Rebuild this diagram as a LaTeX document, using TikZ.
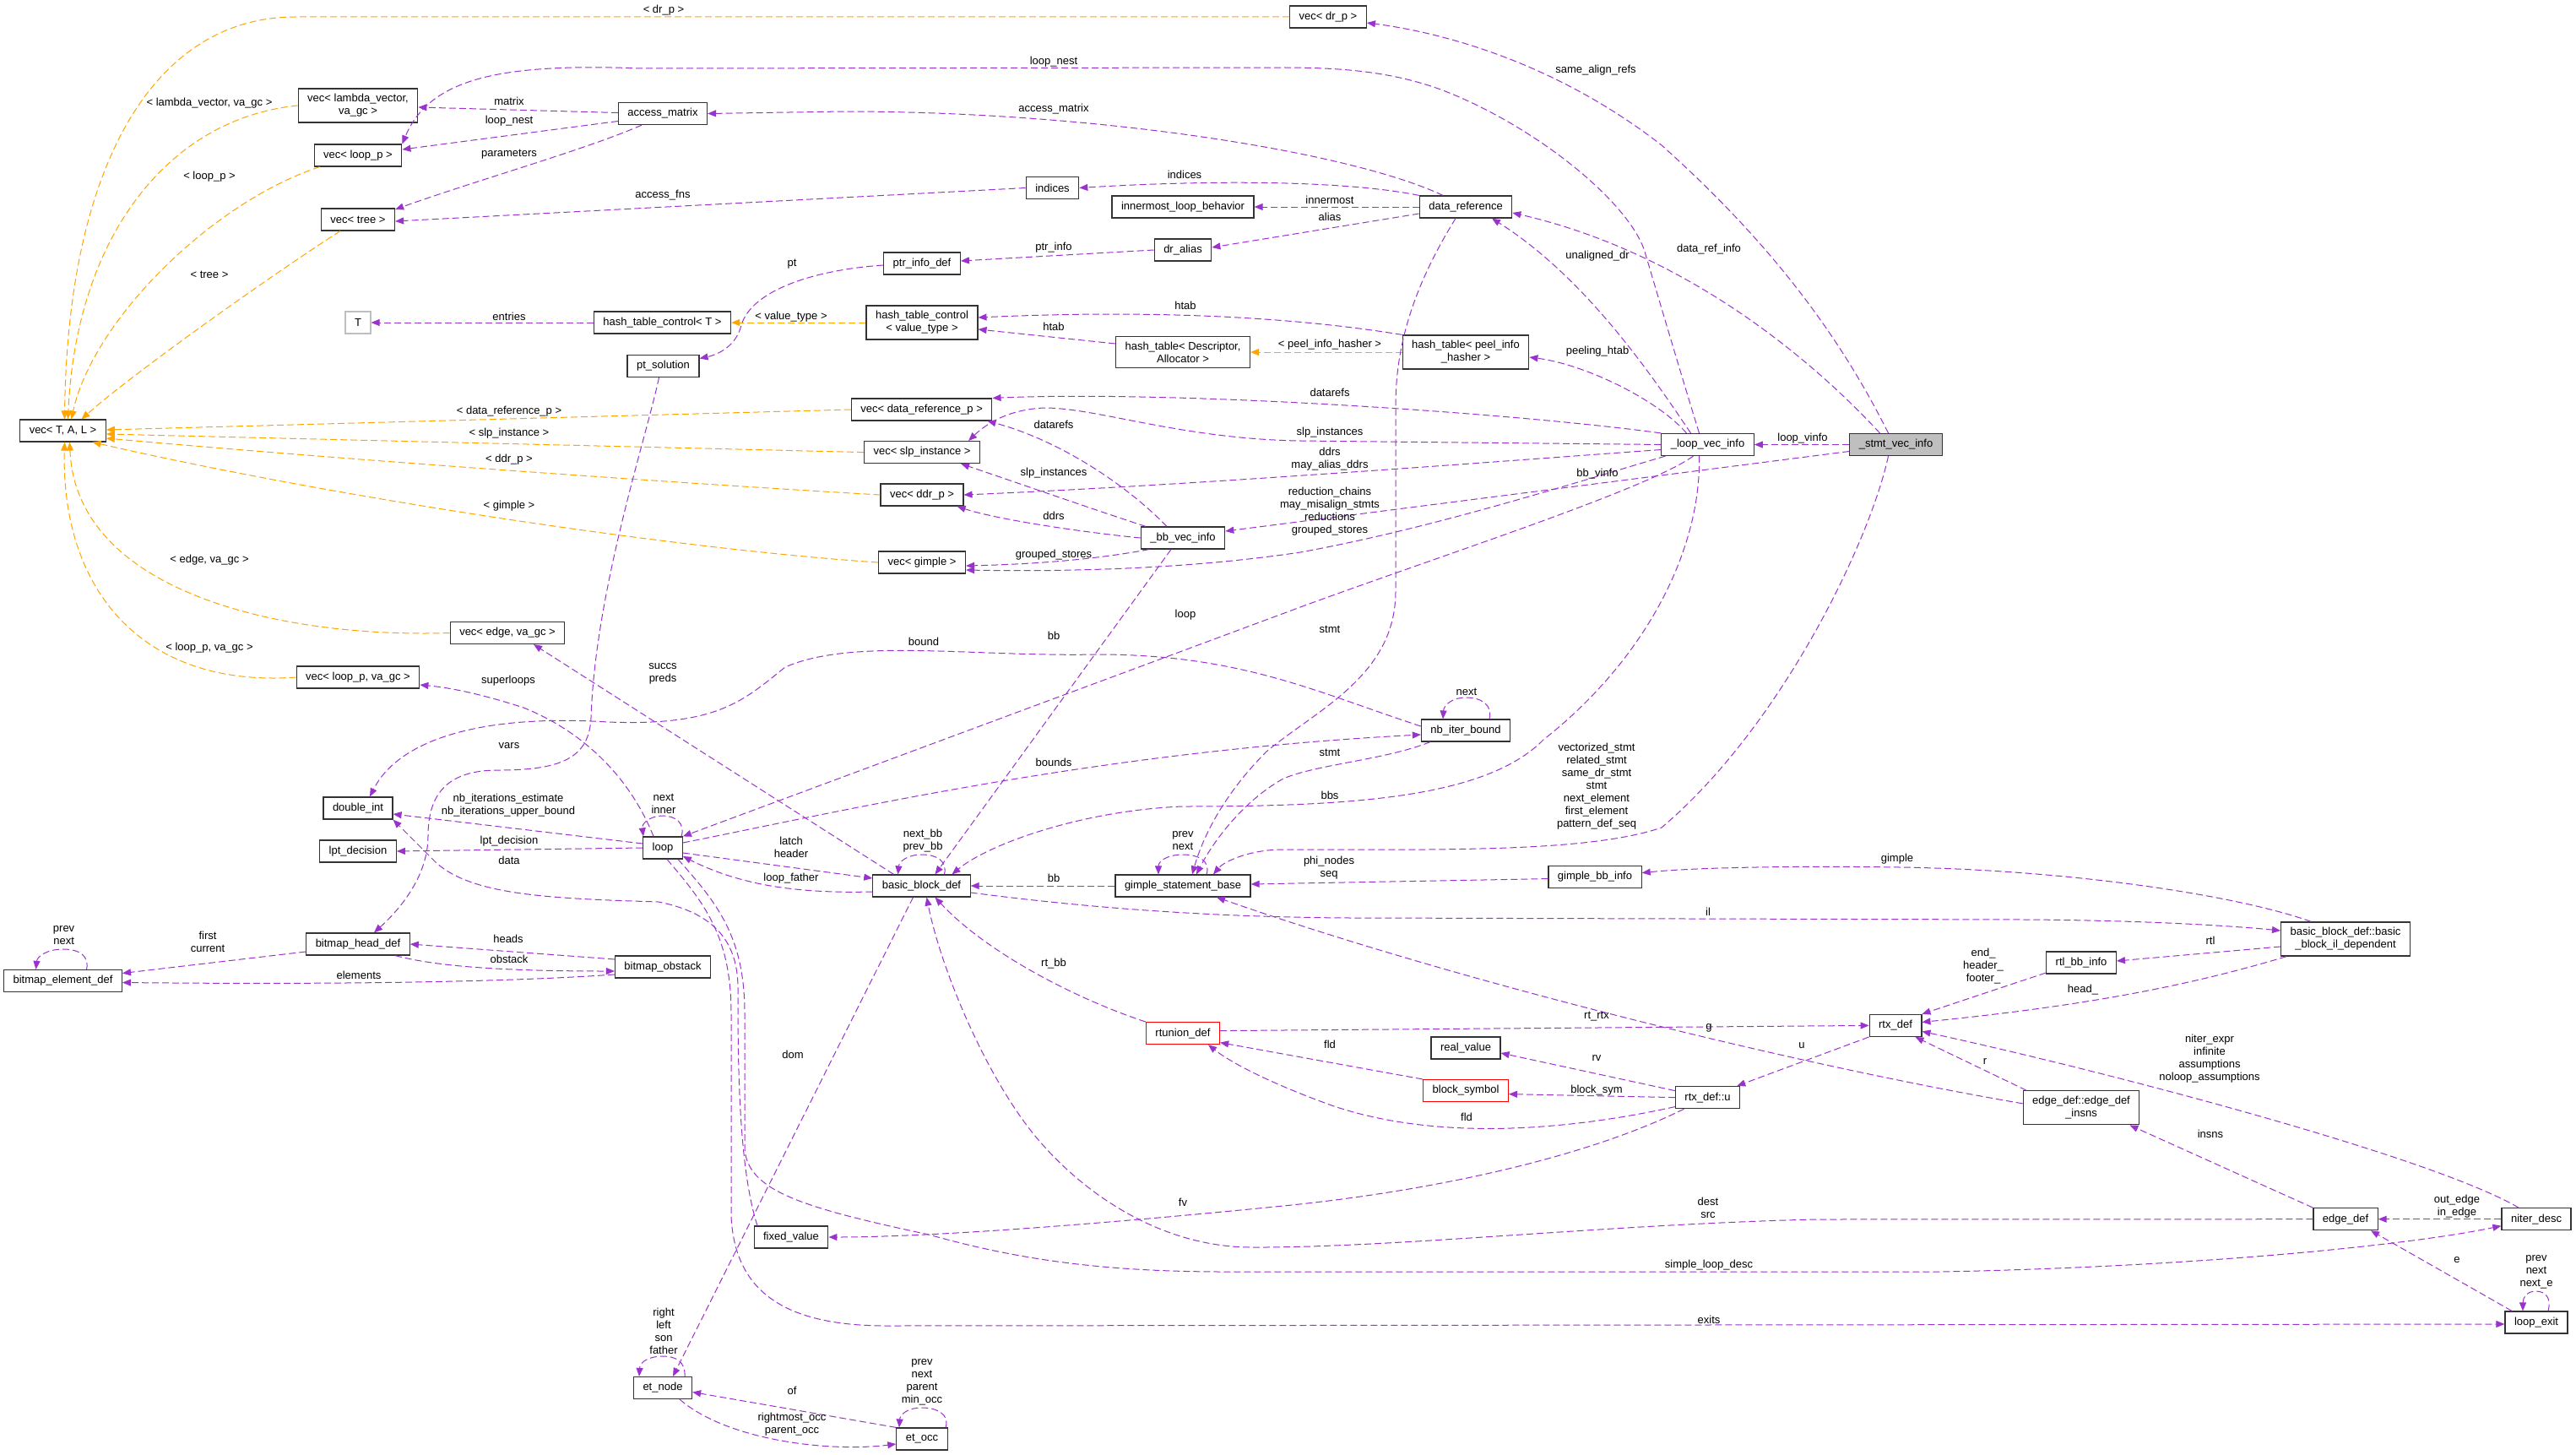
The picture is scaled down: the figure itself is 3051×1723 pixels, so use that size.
\documentclass[tikz,border=0pt]{standalone}
\usepackage{fontspec}
\setmainfont{Liberation Sans}
\usetikzlibrary{arrows.meta}
\definecolor{mbr}{HTML}{9A32CD}
\definecolor{tpl}{HTML}{FFA500}

\begin{document}
\begin{tikzpicture}[x=1pt,y=-1pt,
  cls/.style={draw=black!80,line width=1.2pt,fill=white,minimum height=26pt,inner xsep=11pt,inner ysep=6.5pt,align=center,font=\fontsize{13}{15}\selectfont},
  lbl/.style={inner sep=0pt,align=center,font=\fontsize{13}{15}\selectfont},
  mem/.style={draw=mbr,line width=1pt,dash pattern=on 8pt off 4pt,-{Triangle[length=10pt,width=8pt]}},
  inst/.style={draw=tpl,line width=1pt,dash pattern=on 8pt off 4pt,-{Triangle[length=10pt,width=8pt]}}]
\useasboundingbox[fill=white] (0,0) rectangle (3051,1723);

\node[cls] (vtal) at (74.5,510) {vec< T, A, L >};
\node[cls] (vdrp) at (1573,20) {vec< dr\_p >};
\node[cls] (vlam) at (424,125) {vec< lambda\_vector,\\ va\_gc >};
\node[cls] (vlp) at (424,184) {vec< loop\_p >};
\node[cls] (vtree) at (424,260) {vec< tree >};
\node[cls,draw=black!25] (tt) at (424,382) {T};
\node[cls] (amat) at (785,134.5) {access\_matrix};
\node[cls] (htc) at (784.5,382) {hash\_table\_control< T >};
\node[cls] (pts) at (785.5,433.5) {pt\_solution};
\node[cls] (ind) at (1246.5,222.5) {indices};
\node[cls] (ilb) at (1401,245) {innermost\_loop\_behavior};
\node[cls] (dral) at (1401,296) {dr\_alias};
\node[cls] (pid) at (1092,312) {ptr\_info\_def};
\node[cls] (htcv) at (1092,382) {hash\_table\_control\\< value\_type >};
\node[cls] (htda) at (1401,417) {hash\_table< Descriptor,\\ Allocator >};
\node[cls] (vdr) at (1091.6,485) {vec< data\_reference\_p >};
\node[cls] (vslp) at (1092,535.6) {vec< slp\_instance >};
\node[cls] (vddr) at (1092,586) {vec< ddr\_p >};
\node[cls] (dref) at (1736,245) {data\_reference};
\node[cls] (htpi) at (1736,417) {hash\_table< peel\_info\\\_hasher >};
\node[cls] (lvi) at (2022.5,526.5) {\_loop\_vec\_info};
\node[cls,fill=black!25] (svi) at (2245.5,526.5) {\_stmt\_vec\_info};
\node[cls] (vedge) at (601,749.5) {vec< edge, va\_gc >};
\node[cls] (vlpg) at (424,802) {vec< loop\_p, va\_gc >};
\node[cls] (dint) at (424,957) {double\_int};
\node[cls] (lptd) at (424,1008) {lpt\_decision};
\node[cls] (loop) at (785,1004) {loop};
\node[cls] (bhd) at (424,1118) {bitmap\_head\_def};
\node[cls] (bed) at (74.5,1161.5) {bitmap\_element\_def};
\node[cls] (bobs) at (785,1145) {bitmap\_obstack};
\node[cls] (bbvi) at (1401,637) {\_bb\_vec\_info};
\node[cls] (vgim) at (1092,666) {vec< gimple >};
\node[cls] (bbd) at (1091.5,1049) {basic\_block\_def};
\node[cls] (gsb) at (1401,1049) {gimple\_statement\_base};
\node[cls] (nib) at (1736,865) {nb\_iter\_bound};
\node[cls] (gbbi) at (1889,1038.6) {gimple\_bb\_info};
\node[cls] (bbil) at (2778,1112) {basic\_block\_def::basic\\\_block\_il\_dependent};
\node[cls] (rbi) at (2465,1140) {rtl\_bb\_info};
\node[cls,draw=red] (rtu) at (1401,1223.6) {rtunion\_def};
\node[cls] (fixv) at (937,1465) {fixed\_value};
\node[cls] (etn) at (785,1643.5) {et\_node};
\node[cls] (eto) at (1092,1704) {et\_occ};
\node[cls] (rtx) at (2245,1214.4) {rtx\_def};
\node[cls] (realv) at (1736,1241) {real\_value};
\node[cls,draw=red] (bsym) at (1736,1291.6) {block\_symbol};
\node[cls] (rtxu) at (2022.5,1299.6) {rtx\_def::u};
\node[cls] (edi) at (2465,1311.8) {edge\_def::edge\_def\\\_insns};
\node[cls] (edef) at (2778,1443.7) {edge\_def};
\node[cls] (nid) at (3004,1443.7) {niter\_desc};
\node[cls] (lex) at (3004,1566) {loop\_exit};

\draw[inst] (vdrp.west) -- (350,20) .. controls (180,20) and (80,200) .. ([xshift=2pt]vtal.north);
\draw[inst] (vlam.west) .. controls (200,140) and (90,280) .. ([xshift=6pt]vtal.north);
\draw[inst] ([xshift=7pt]vlp.south west) .. controls (250,240) and (110,380) .. ([xshift=10pt]vtal.north);
\draw[inst] ([xshift=-21pt]vtree.south) .. controls (330,320) and (160,440) .. ([xshift=22pt]vtal.north);
\draw[inst] (vdr.west) -- ([yshift=1pt]vtal.east);
\draw[inst] (vslp.west) -- ([yshift=-4pt]vtal.east);
\draw[inst] (vddr.west) .. controls (850,575) and (450,548) .. ([yshift=-9pt]vtal.east);
\draw[inst] (vgim.west) .. controls (800,650) and (400,590) .. ([xshift=35pt]vtal.south);
\draw[inst] (vedge.west) .. controls (330,756) and (90,700) .. ([xshift=8pt]vtal.south);
\draw[inst] (vlpg.west) .. controls (170,815) and (72,700) .. ([xshift=2pt]vtal.south);
\draw[inst] (htcv.west) -- (htc.east);
\draw[inst] (htpi.west) -- (htda.east);

\draw[mem] ([yshift=1pt]amat.west) -- ([yshift=-2pt]vlam.east);
\draw[mem] ([yshift=-9pt]amat.west) -- ([yshift=7pt]vlp.east);
\draw[mem] ([xshift=-25pt]amat.south) .. controls (700,175) and (560,215) .. ([yshift=12pt]vtree.east);
\draw[mem] (ind.west) -- ([yshift=-2pt]vtree.east);
\draw[mem] ([xshift=-10pt]lvi.north) .. controls (1990,440) and (1962,345) .. (1948,298) .. controls (1930,240) and (1820,150) .. (1709,107) .. controls (1650,85) and (1590,80) .. (1520,80) -- (760,81) .. controls (600,75) and (510,90) .. (vlp.north east);
\draw[mem] ([xshift=-27pt]dref.north) .. controls (1600,180) and (1300,132) .. (1000,132) -- (amat.east);
\draw[mem] (dref.north west) .. controls (1600,215) and (1450,212) .. (ind.east);
\draw[mem] (dref.west) -- (ilb.east);
\draw[mem] ([yshift=-8pt]dref.west) -- ([yshift=3pt]dral.east);
\draw[mem] (dral.west) -- ([yshift=3pt]pid.east);
\draw[mem] ([yshift=-2pt]pid.west) .. controls (960,320) and (890,345) .. (878,385) .. controls (872,410) and (850,420) .. ([yshift=9pt]pts.east);
\draw[mem] (htc.west) -- (tt.east);
\draw[mem] (htpi.north west) .. controls (1560,380) and (1400,365) .. ([yshift=6pt]htcv.east);
\draw[mem] ([yshift=10pt]htda.west) -- ([yshift=-8pt]htcv.east);
\draw[mem] ([xshift=-25pt]lvi.north) .. controls (1965,475) and (1880,432) .. ([yshift=-6pt]htpi.east);
\draw[mem] ([xshift=-9pt]svi.north) .. controls (2180,400) and (2100,290) .. (1968,172) .. controls (1850,80) and (1720,40) .. ([yshift=-7pt]vdrp.east);
\draw[mem] ([xshift=-19pt]svi.north) .. controls (2150,430) and (2000,300) .. ([yshift=-7pt]dref.east);
\draw[mem] ([xshift=-20pt]lvi.north) .. controls (1960,450) and (1880,330) .. ([xshift=31pt]dref.south);
\draw[mem] (svi.west) -- (lvi.east);
\draw[mem] (lvi.north west) .. controls (1800,490) and (1400,462) .. (vdr.north east);
\draw[mem] ([xshift=-19pt]bbvi.north) .. controls (1330,570) and (1250,520) .. ([xshift=-6pt]vdr.south east);
\draw[mem] ([xshift=-44pt]bbvi.north) .. controls (1300,605) and (1200,570) .. ([xshift=-23pt]vslp.south east);
\draw[mem] (lvi.west) -- (1540,522) .. controls (1400,520) and (1300,483) .. (1237,483) .. controls (1190,485) and (1165,505) .. ([xshift=-14pt]vslp.north east);
\draw[mem] ([yshift=-6pt]lvi.west) .. controls (1700,552) and (1400,575) .. (vddr.east);
\draw[mem] (bbvi.west) .. controls (1280,630) and (1180,615) .. ([xshift=-8pt]vddr.south east);
\draw[mem] ([xshift=-50pt]lvi.south) .. controls (1870,570) and (1700,625) .. (1540,654) .. controls (1400,675) and (1250,677) .. ([yshift=-9pt]vgim.east);
\draw[mem] ([xshift=-40pt]bbvi.south) .. controls (1300,662) and (1230,668) .. ([yshift=-4pt]vgim.east);
\draw[mem] ([yshift=-8pt]svi.west) -- ([yshift=8pt]bbvi.east);
\draw[mem] ([xshift=-17pt]lvi.south) .. controls (1950,580) and (1700,660) .. (1540,719) -- (loop.north east);
\draw[mem] ([xshift=-14pt]bbvi.south) -- ([xshift=16pt]bbd.north);
\draw[mem] ([xshift=-33pt]bbd.north) -- ([xshift=31pt]vedge.south);
\draw[mem] ([yshift=5pt]nib.west) .. controls (1560,820) and (1470,775) .. (1300,775) .. controls (1150,778) and (1010,755) .. (930,790) .. controls (880,830) and (850,860) .. (720,855) .. controls (560,845) and (470,880) .. ([xshift=14pt]dint.north);
\draw[mem] ([yshift=6pt]loop.east) .. controls (1000,960) and (1300,890) .. ([yshift=-5pt]nib.west);
\draw[mem] ([xshift=28pt]nib.north) .. controls (1768,835) and (1755,826) .. (1736,826) .. controls (1720,826) and (1710,835) .. ([xshift=-27pt]nib.north);
\draw[mem] ([xshift=-42pt]nib.south) .. controls (1640,900) and (1560,905) .. (1520,922) .. controls (1470,950) and (1435,1000) .. ([xshift=16pt]gsb.north);
\draw[mem] ([xshift=-12pt]dref.south) .. controls (1680,330) and (1653,400) .. (1653,480) -- (1653,700) .. controls (1653,800) and (1560,840) .. (1500,890) .. controls (1450,940) and (1425,990) .. ([xshift=11pt]gsb.north);
\draw[mem] ([xshift=-9pt]svi.south) .. controls (2215,640) and (2110,860) .. (1968,980) .. controls (1880,1010) and (1700,1006) .. (1520,1006) .. controls (1480,1006) and (1450,1020) .. ([xshift=36pt]gsb.north);
\draw[mem] ([xshift=-10pt]lvi.south) .. controls (2015,650) and (1950,780) .. (1828,876) .. controls (1760,945) and (1600,955) .. (1400,955) .. controls (1280,960) and (1170,1000) .. ([xshift=36pt]bbd.north);
\draw[mem] ([xshift=28pt]gsb.north) .. controls (1434,1020) and (1420,1012) .. (1401,1012) .. controls (1382,1012) and (1372,1020) .. ([xshift=-29pt]gsb.north);
\draw[mem] ([xshift=27pt]bbd.north) .. controls (1122,1020) and (1110,1012) .. (1092,1012) .. controls (1075,1012) and (1065,1020) .. ([xshift=-28pt]bbd.north);
\draw[mem] ([xshift=22pt]loop.north) .. controls (812,975) and (800,966) .. (785,966) .. controls (770,966) and (760,975) .. ([xshift=-23pt]loop.north);
\draw[mem] ([yshift=-6pt]loop.east) -- ([yshift=9pt]bbd.west);
\draw[mem] ([yshift=-7pt]bbd.west) .. controls (950,1058) and (880,1050) .. ([yshift=-10pt]loop.east);
\draw[mem] (gsb.west) -- (bbd.east);
\draw[mem] ([yshift=-2pt]gbbi.west) -- ([yshift=2pt]gsb.east);
\draw[mem] ([xshift=-41pt]bbil.north) .. controls (2650,1060) and (2450,1030) .. (2250,1027) .. controls (2100,1025) and (2000,1028) .. ([yshift=5pt]gbbi.east);
\draw[mem] ([yshift=-8pt]bbd.east) .. controls (1250,1070) and (1400,1086) .. (1600,1087) -- (2400,1089) .. controls (2550,1090) and (2650,1097) .. ([yshift=10pt]bbil.west);
\draw[mem] ([yshift=-9pt]bbil.west) -- ([yshift=2pt]rbi.east);
\draw[mem] ([yshift=-12pt]rbi.west) -- (rtx.north east);
\draw[mem] ([xshift=-70pt]bbil.south) .. controls (2600,1165) and (2480,1190) .. ([yshift=4pt]rtx.east);
\draw[mem] ([xshift=-65pt]edi.north) -- ([xshift=-8pt]rtx.south east);
\draw[mem] ([xshift=-21pt]nid.north) .. controls (2880,1370) and (2500,1270) .. ([yshift=-7pt]rtx.east);
\draw[mem] (rtu.north west) .. controls (1280,1185) and (1170,1130) .. ([xshift=16pt]bbd.south);
\draw[mem] ([yshift=3pt]rtu.east) -- (rtx.west);
\draw[mem] (bsym.north west) -- ([yshift=-11pt]rtu.east);
\draw[mem] ([yshift=-11pt]rtxu.west) .. controls (1850,1340) and (1700,1350) .. (1580,1310) .. controls (1510,1285) and (1460,1260) .. ([xshift=30pt]rtu.south);
\draw[mem] ([yshift=8pt]rtxu.west) -- ([yshift=-6pt]realv.east);
\draw[mem] (rtxu.west) -- ([yshift=-4pt]bsym.east);
\draw[mem] (rtx.south west) -- ([xshift=-4pt]rtxu.north east);
\draw[mem] ([yshift=5pt]edi.west) .. controls (2150,1265) and (1750,1170) .. ([xshift=40pt]gsb.south);
\draw[mem] ([xshift=-28pt]rtxu.south) .. controls (1880,1370) and (1700,1410) .. (1520,1428) .. controls (1300,1450) and (1100,1465) .. (fixv.east);
\draw[mem] (edef.west) -- (2150,1444) .. controls (1900,1450) and (1650,1478) .. (1480,1477) .. controls (1380,1476) and (1290,1420) .. (1230,1350) .. controls (1170,1280) and (1115,1150) .. ([xshift=6pt]bbd.south);
\draw[mem] ([xshift=-10pt]bbd.south) -- ([xshift=12pt]etn.north);
\draw[mem] ([xshift=26pt]etn.north) .. controls (812,1612) and (800,1606) .. (785,1606) .. controls (770,1606) and (758,1612) .. ([xshift=-28pt]etn.north);
\draw[mem] (eto.north west) -- ([yshift=-5pt]etn.east);
\draw[mem] ([xshift=20pt]etn.south) .. controls (860,1705) and (980,1720) .. ([yshift=-6pt]eto.west);
\draw[mem] ([xshift=28pt]eto.north) .. controls (1125,1675) and (1110,1667) .. (1092,1667) .. controls (1075,1667) and (1066,1675) .. ([xshift=-27pt]eto.north);
\draw[mem] ([xshift=-11pt]loop.north) .. controls (750,930) and (700,870) .. (620,838) .. controls (580,825) and (540,815) .. ([yshift=-9pt]vlpg.east);
\draw[mem] ([yshift=5pt]loop.west) -- ([yshift=-7pt]dint.east);
\draw[mem] (loop.west) -- (lptd.east);
\draw[mem] ([xshift=-40pt]fixv.north) .. controls (874,1380) and (874,1250) .. (874,1170) .. controls (874,1110) and (840,1080) .. (780,1068) .. controls (650,1064) and (560,1060) .. (517,1022) .. controls (495,1000) and (480,985) .. (dint.south east);
\draw[mem] ([xshift=5pt]loop.south) .. controls (835,1070) and (866,1110) .. (866,1200) -- (866,1440) .. controls (870,1530) and (930,1570) .. (1050,1570) -- ([yshift=-2pt]lex.west);
\draw[mem] ([xshift=18pt]loop.south) .. controls (850,1070) and (882,1110) .. (882,1200) -- (882,1360) .. controls (885,1410) and (950,1430) .. (1100,1462) .. controls (1200,1490) and (1300,1506) .. (1450,1506) -- (2300,1506) .. controls (2600,1500) and (2850,1475) .. ([yshift=-8pt]nid.west);
\draw[mem] ([yshift=-9pt]bhd.west) -- ([yshift=9pt]bed.east);
\draw[mem] ([xshift=28pt]bed.north) .. controls (106,1133) and (95,1124) .. (75,1124) .. controls (55,1124) and (44,1133) .. ([xshift=-32pt]bed.north);
\draw[mem] ([yshift=-9pt]bobs.west) .. controls (600,1163) and (400,1166) .. ([yshift=-2pt]bed.east);
\draw[mem] ([yshift=9pt]bobs.west) -- (bhd.east);
\draw[mem] ([xshift=44pt]bhd.south) .. controls (520,1145) and (600,1150) .. ([yshift=-5pt]bobs.west);
\draw[mem] ([xshift=-5pt]pts.south) .. controls (765,520) and (705,700) .. (700,850) .. controls (698,900) and (660,912) .. (590,912) .. controls (530,912) and (507,940) .. (507,990) .. controls (507,1040) and (470,1080) .. ([xshift=19pt]bhd.north);
\draw[mem] (edef.north west) -- ([xshift=-12pt]edi.south east);
\draw[mem] (nid.west) -- (edef.east);
\draw[mem] ([xshift=-29pt]lex.north) -- ([xshift=30pt]edef.south);
\draw[mem] ([xshift=14pt]lex.north) .. controls (3022,1537) and (3015,1529) .. (3003,1529) .. controls (2993,1529) and (2988,1537) .. ([xshift=-16pt]lex.north);

\node[lbl] (lb1) at (786,12) {< dr\_p >};
\node[lbl] (lb2) at (248,122) {< lambda\_vector, va\_gc >};
\node[lbl] (lb3) at (248,209) {< loop\_p >};
\node[lbl] (lb4) at (248,325) {< tree >};
\node[lbl] (lb5) at (603,487) {< data\_reference\_p >};
\node[lbl] (lb6) at (603,513) {< slp\_instance >};
\node[lbl] (lb7) at (603,544) {< ddr\_p >};
\node[lbl] (lb8) at (603,599) {< gimple >};
\node[lbl] (lb9) at (248,663) {< edge, va\_gc >};
\node[lbl] (lb10) at (248,767.5) {< loop\_p, va\_gc >};
\node[lbl] (lb11) at (937,375) {< value\_type >};
\node[lbl] (lb12) at (1575,408) {< peel\_info\_hasher >};
\node[lbl] (lb13) at (603,120) {matrix};
\node[lbl] (lb14) at (603,143) {loop\_nest};
\node[lbl] (lb15) at (603,183) {parameters};
\node[lbl] (lb16) at (785,231.5) {access\_fns};
\node[lbl] (lb17) at (1248,73) {loop\_nest};
\node[lbl] (lb18) at (1248,129) {access\_matrix};
\node[lbl] (lb19) at (1403,207) {indices};
\node[lbl] (lb20) at (1575,236.5) {innermost};
\node[lbl] (lb21) at (1575,256.4) {alias};
\node[lbl] (lb22) at (1248,293) {ptr\_info};
\node[lbl] (lb23) at (938,313) {pt};
\node[lbl] (lb24) at (603,375) {entries};
\node[lbl] (lb25) at (1404,362) {htab};
\node[lbl] (lb26) at (1248,386.5) {htab};
\node[lbl] (lb27) at (1892,416) {peeling\_htab};
\node[lbl] (lb28) at (1890,83) {same\_align\_refs};
\node[lbl] (lb29) at (2024,295) {data\_ref\_info};
\node[lbl] (lb30) at (1892,303) {unaligned\_dr};
\node[lbl] (lb31) at (2135,519) {loop\_vinfo};
\node[lbl] (lb32) at (1575,465) {datarefs};
\node[lbl] (lb33) at (1248,502.5) {datarefs};
\node[lbl] (lb34) at (1248,560) {slp\_instances};
\node[lbl] (lb35) at (1575,512) {slp\_instances};
\node[lbl] (lb36) at (1575,544) {ddrs\\may\_alias\_ddrs};
\node[lbl] (lb37) at (1248,611) {ddrs};
\node[lbl] (lb38) at (1575,606) {reduction\_chains\\may\_misalign\_stmts\\reductions\\grouped\_stores};
\node[lbl] (lb39) at (1248,657) {grouped\_stores};
\node[lbl] (lb40) at (1892,561) {bb\_vinfo};
\node[lbl] (lb41) at (1404,728) {loop};
\node[lbl] (lb42) at (1248,752.5) {bb};
\node[lbl] (lb43) at (785,798) {succs\\preds};
\node[lbl] (lb44) at (1094,760) {bound};
\node[lbl] (lb45) at (1248,903) {bounds};
\node[lbl] (lb46) at (1737,819.5) {next};
\node[lbl] (lb47) at (1575,891) {stmt};
\node[lbl] (lb48) at (1575,745) {stmt};
\node[lbl] (lb49) at (1891,931.5) {vectorized\_stmt\\related\_stmt\\same\_dr\_stmt\\stmt\\next\_element\\first\_element\\pattern\_def\_seq};
\node[lbl] (lb50) at (1575,942) {bbs};
\node[lbl] (lb51) at (1401,996) {prev\\next};
\node[lbl] (lb52) at (1093,996) {next\_bb\\prev\_bb};
\node[lbl] (lb53) at (786,951.5) {next\\inner};
\node[lbl] (lb54) at (937,1003) {latch\\header};
\node[lbl] (lb55) at (937,1040) {loop\_father};
\node[lbl] (lb56) at (1248,1040) {bb};
\node[lbl] (lb57) at (1574,1028) {phi\_nodes\\seq};
\node[lbl] (lb58) at (2247,1017) {gimple};
\node[lbl] (lb59) at (2023,1080) {il};
\node[lbl] (lb60) at (2618,1114) {rtl};
\node[lbl] (lb61) at (2349,1144) {end\_\\header\_\\footer\_};
\node[lbl] (lb62) at (2467,1172) {head\_};
\node[lbl] (lb63) at (2351,1257) {r};
\node[lbl] (lb64) at (2617,1254) {niter\_expr\\infinite\\assumptions\\noloop\_assumptions};
\node[lbl] (lb65) at (1248,1141) {rt\_bb};
\node[lbl] (lb66) at (1891,1204) {rt\_rtx};
\node[lbl] (lb67) at (1575,1237) {fld};
\node[lbl] (lb68) at (1737,1323) {fld};
\node[lbl] (lb69) at (1891,1253) {rv};
\node[lbl] (lb70) at (1891,1291) {block\_sym};
\node[lbl] (lb71) at (2134,1238.5) {u};
\node[lbl] (lb72) at (2024,1217) {g};
\node[lbl] (lb73) at (1401,1424) {fv};
\node[lbl] (lb74) at (2023,1430) {dest\\src};
\node[lbl] (lb75) at (939,1248.5) {dom};
\node[lbl] (lb76) at (786,1576) {right\\left\\son\\father};
\node[lbl] (lb77) at (938,1647) {of};
\node[lbl] (lb78) at (938,1687) {rightmost\_occ\\parent\_occ};
\node[lbl] (lb79) at (1092,1637) {prev\\next\\parent\\min\_occ};
\node[lbl] (lb80) at (602,806.5) {superloops};
\node[lbl] (lb81) at (602,954) {nb\_iterations\_estimate\\nb\_iterations\_upper\_bound};
\node[lbl] (lb82) at (603,996) {lpt\_decision};
\node[lbl] (lb83) at (603,1018.5) {data};
\node[lbl] (lb84) at (2024,1563) {exits};
\node[lbl] (lb85) at (2024,1498) {simple\_loop\_desc};
\node[lbl] (lb86) at (246,1115) {first\\current};
\node[lbl] (lb87) at (75.6,1108) {prev\\next};
\node[lbl] (lb88) at (425,1155) {elements};
\node[lbl] (lb89) at (602,1112) {heads};
\node[lbl] (lb90) at (603,1136) {obstack};
\node[lbl] (lb91) at (603,883) {vars};
\node[lbl] (lb92) at (2618,1343) {insns};
\node[lbl] (lb93) at (2910,1429) {out\_edge\\in\_edge};
\node[lbl] (lb94) at (2910,1492) {e};
\node[lbl] (lb95) at (3004,1506) {prev\\next\\next\_e};
\end{tikzpicture}
\end{document}
